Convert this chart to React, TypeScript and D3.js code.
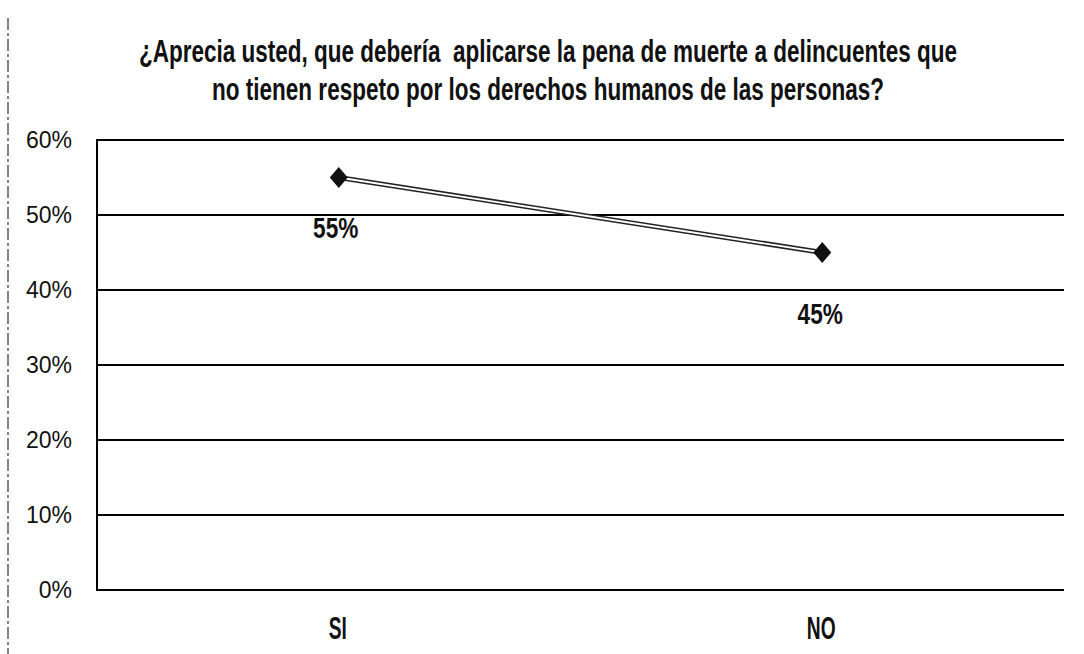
import React, { useLayoutEffect, useRef, useState } from "react";
import * as d3 from "d3";

const categories = ["SI", "NO"];
const values = [0.55, 0.45];
const yTicks = [0, 0.1, 0.2, 0.3, 0.4, 0.5, 0.6];
const titleLines = [
  "¿Aprecia usted, que debería  aplicarse la pena de muerte a delincuentes que",
  "no tienen respeto por los derechos humanos de las personas?",
];
const titleWidths = [818, 672];

const W = 1084;
const H = 654;
const left = 97;
const right = 1064;
const top = 140;
const bottom = 590;
const boldFont = "'Liberation Sans', Arial, sans-serif";

function FitText({ x, y, width, size, children }: { x: number; y: number; width: number; size: number; children: string }) {
  const ref = useRef<SVGTextElement>(null);
  const [sx, setSx] = useState(0.6);
  useLayoutEffect(() => {
    if (ref.current) {
      const w = ref.current.getComputedTextLength();
      if (w > 0) setSx(width / w);
    }
  }, [width, children]);
  return (
    <g transform={`translate(${x},${y}) scale(${sx},1)`}>
      <text ref={ref} x={0} y={0} textAnchor="middle" fontFamily={boldFont} fontWeight="bold" fontSize={size} fill="#111" style={{ whiteSpace: "pre" }}>
        {children}
      </text>
    </g>
  );
}

export default function App() {
  const x = d3.scalePoint<string>().domain(categories).range([left, right]).padding(0.5);
  const y = d3.scaleLinear().domain([0, 0.6]).range([bottom, top]);
  const pts = categories.map((c, i) => [x(c) as number, y(values[i])] as [number, number]);
  const line = d3.line()(pts) || "";
  const hw = 9;
  const hh = 10.5;
  const diamond = `M0,${-hh}L${hw},0L0,${hh}L${-hw},0Z`;
  const labelOffsets = [{ dx: -3, dy: 60 }, { dx: -2, dy: 71 }];
  const pct = d3.format(".0%");
  return (
    <svg width={W} height={H} style={{ position: "absolute", left: 0, top: 0, background: "#fff" }}>
      <line x1={8} x2={8} y1={18} y2={H} stroke="#333" strokeWidth={1.2} strokeDasharray="12,3,3,3" />
      {titleLines.map((t, i) => (
        <FitText key={i} x={548} y={62 + i * 38} width={titleWidths[i]} size={31}>
          {t}
        </FitText>
      ))}
      {yTicks.map((t) => (
        <g key={t}>
          <line x1={left} x2={right} y1={y(t)} y2={y(t)} stroke="#000" strokeWidth={2} />
          <text x={72} y={y(t) + 8} textAnchor="end" fontFamily="'Liberation Sans', Arial, sans-serif" fontSize={23} fill="#111">
            {pct(t)}
          </text>
        </g>
      ))}
      <line x1={left} x2={left} y1={top - 1} y2={bottom + 1} stroke="#000" strokeWidth={2} />
      <path d={line} fill="none" stroke="#222" strokeWidth={5} />
      <path d={line} fill="none" stroke="#fff" strokeWidth={1.8} />
      {pts.map((p, i) => (
        <path key={i} d={diamond} transform={`translate(${p[0]},${p[1]})`} fill="#111" />
      ))}
      {pts.map((p, i) => (
        <text
          key={"l" + i}
          transform={`translate(${p[0] + labelOffsets[i].dx},${p[1] + labelOffsets[i].dy}) scale(0.78,1)`}
          textAnchor="middle"
          fontFamily={boldFont}
          fontWeight="bold"
          fontSize={29}
          fill="#111"
        >
          {pct(values[i])}
        </text>
      ))}
      {categories.map((c) => (
        <text
          key={c}
          transform={`translate(${(x(c) as number) - 1},639) scale(0.6,1)`}
          textAnchor="middle"
          fontFamily={boldFont}
          fontWeight="bold"
          fontSize={32}
          fill="#111"
        >
          {c}
        </text>
      ))}
    </svg>
  );
}
